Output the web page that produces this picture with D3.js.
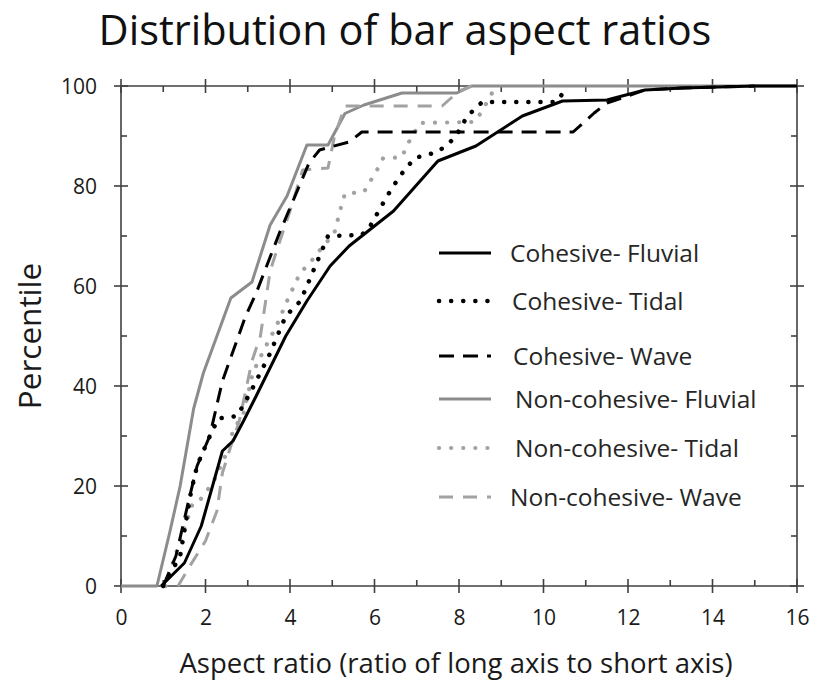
<!DOCTYPE html>
<html>
<head>
<meta charset="utf-8">
<script src="https://cdn.jsdelivr.net/npm/d3@7/dist/d3.min.js"></script>
<style>
  html, body { margin: 0; padding: 0; background: #fff; }
  svg { display: block; font-family: "Open Sans", Lato, sans-serif; }
</style>
</head>
<body>
<svg id="chart" width="817" height="685"></svg>
<script>
// Cumulative distributions of bar aspect ratio, [aspect ratio, percentile]
const cohesiveFluvial = [[0.95,0],[1.5,4.6],[1.9,12],[2.4,27],[2.65,29],[2.9,33],[3.2,38],[3.9,50],[4.4,57],[4.95,64],[5.4,68],[6.45,75],[7.5,85],[8.4,88],[9.5,94],[10.45,97],[11.5,97.2],[12.4,99.2],[13.3,99.6],[15,100],[16,100]];
const cohesiveTidal = [[1.0,0],[1.4,6],[1.5,11],[1.65,18.5],[1.8,24],[2.05,29],[2.3,33.5],[2.75,34],[3.05,38.5],[3.5,46],[3.9,54],[4.25,57],[4.55,63],[4.9,70],[5.7,70.2],[5.9,72],[6.3,78],[6.6,82],[6.95,85.6],[7.5,86.8],[7.9,89.6],[8.2,94],[8.55,96.8],[10.3,96.8],[10.5,99],[10.6,100]];
const cohesiveWave = [[1.0,0],[1.3,6],[1.6,17],[1.8,24],[2.1,30],[2.4,41],[2.95,54],[3.2,58.6],[3.75,70.6],[4.05,76.6],[4.45,84.6],[4.7,87.2],[4.95,87.8],[5.4,88.8],[5.7,90.8],[10.7,90.8],[11.2,94.6],[11.5,96.6],[12.0,98],[12.4,99.2],[13.3,99.6],[15,100]];
const nonCohesiveFluvial = [[0,0],[0.85,0],[1.15,10.6],[1.4,20],[1.72,35.5],[1.95,42.6],[2.6,57.6],[3.1,60.8],[3.53,72.2],[3.93,78],[4.4,88.2],[4.9,88.2],[5.3,94.5],[5.75,96.2],[6.65,98.6],[7.95,98.6],[8.3,100],[16,100]];
const nonCohesiveTidal = [[1.05,0],[1.4,9],[1.7,16.6],[1.87,17.2],[2.2,21],[2.5,26.6],[2.65,31],[2.9,34.6],[3.12,42.6],[3.37,47],[3.68,52],[3.93,57],[4.24,62.6],[4.47,64.6],[4.71,67.2],[5.05,70.6],[5.2,75.5],[5.3,78.5],[5.75,78.8],[6.06,83.2],[6.2,85.5],[6.65,85.8],[6.8,88.6],[7.08,92.6],[8.3,92.8],[8.42,93.2],[8.57,95.5],[8.73,97.6],[8.85,100]];
const nonCohesiveWave = [[1.35,0],[1.63,4],[2.0,9],[2.27,15],[2.4,22.6],[2.6,28],[2.8,33],[3.1,45],[3.3,50],[3.53,63],[3.76,69],[4.0,75],[4.3,83.2],[4.9,83.6],[5.05,89.8],[5.3,96],[7.6,96],[8.0,99],[8.3,100]];

const seriesNames = ["Cohesive- Fluvial","Cohesive- Tidal","Cohesive- Wave","Non-cohesive- Fluvial","Non-cohesive- Tidal","Non-cohesive- Wave"];
const seriesData = [cohesiveFluvial, cohesiveTidal, cohesiveWave, nonCohesiveFluvial, nonCohesiveTidal, nonCohesiveWave];

const xMajorTicks = [0,2,4,6,8,10,12,14,16];
const xMinorTicks = [1,3,5,7,9,11,13,15];
const yMajorTicks = [0,20,40,60,80,100];
const yMinorTicks = [10,30,50,70,90];

const titleText = "Distribution of bar aspect ratios";
const xTitle = "Aspect ratio (ratio of long axis to short axis)";
const yTitle = "Percentile";

// Line styles for each series
const styles = [
  { stroke: "#000000", width: 3, dash: null, cap: "butt" },
  { stroke: "#000000", width: 4.5, dash: "0.1,12", cap: "round" },
  { stroke: "#000000", width: 3, dash: "15,9", cap: "butt" },
  { stroke: "#8c8c8c", width: 3, dash: null, cap: "butt" },
  { stroke: "#a2a2a2", width: 4.2, dash: "0.1,12", cap: "round" },
  { stroke: "#a2a2a2", width: 3, dash: "14,10", cap: "butt" }
];

const svg = d3.select("#chart");
const margin = { left: 121, right: 20, top: 86, bottom: 99 };
const W = 817, H = 685;

const x = d3.scaleLinear().domain([0, 16]).range([margin.left, W - margin.right]);
const y = d3.scaleLinear().domain([0, 100]).range([H - margin.bottom, margin.top]);

const axisColor = "#404040";
const frame = svg.append("g").attr("stroke", axisColor).attr("stroke-width", 1.6);

// Plot frame
frame.append("line").attr("x1", x(0)).attr("x2", x(16)).attr("y1", y(0)).attr("y2", y(0));
frame.append("line").attr("x1", x(0)).attr("x2", x(16)).attr("y1", y(100)).attr("y2", y(100));
frame.append("line").attr("x1", x(0)).attr("x2", x(0)).attr("y1", y(0)).attr("y2", y(100));
frame.append("line").attr("x1", x(16)).attr("x2", x(16)).attr("y1", y(0)).attr("y2", y(100));

// Major ticks cross the frame, minor ticks point inward
const maj = 7, mnr = 6;
[y(0), y(100)].forEach((yy, i) => {
  const dir = i === 0 ? -1 : 1;
  frame.selectAll(null).data(xMajorTicks).enter().append("line")
    .attr("x1", d => x(d)).attr("x2", d => x(d))
    .attr("y1", yy - maj).attr("y2", yy + maj);
  frame.selectAll(null).data(xMinorTicks).enter().append("line")
    .attr("x1", d => x(d)).attr("x2", d => x(d))
    .attr("y1", yy).attr("y2", yy + dir * mnr);
});
[x(0), x(16)].forEach((xx, i) => {
  const dir = i === 0 ? 1 : -1;
  frame.selectAll(null).data(yMajorTicks).enter().append("line")
    .attr("y1", d => y(d)).attr("y2", d => y(d))
    .attr("x1", xx - maj).attr("x2", xx + maj);
  frame.selectAll(null).data(yMinorTicks).enter().append("line")
    .attr("y1", d => y(d)).attr("y2", d => y(d))
    .attr("x1", xx).attr("x2", xx + dir * mnr);
});

// Tick labels via d3 axes (tick lines hidden; drawn above)
const xAxis = d3.axisBottom(x).tickValues(xMajorTicks).tickSize(0).tickPadding(24);
const gx = svg.append("g").attr("transform", `translate(0,${y(0)})`).call(xAxis);
const yAxis = d3.axisLeft(y).tickValues(yMajorTicks).tickSize(0).tickPadding(24);
const gy = svg.append("g").attr("transform", `translate(${x(0)},0)`).call(yAxis);
[gx, gy].forEach(g => {
  g.select(".domain").remove();
  g.selectAll("text").attr("font-size", 21).attr("fill", "#1a1a1a")
    .attr("font-family", "'Open Sans', Lato, sans-serif");
});
gy.selectAll("text").attr("dy", "0.36em");

// Series lines
const line = d3.line().x(d => x(d[0])).y(d => y(d[1]));
const order = [3, 4, 5, 0, 1, 2];
order.forEach(i => {
  const s = styles[i];
  svg.append("path")
    .datum(seriesData[i])
    .attr("d", line)
    .attr("fill", "none")
    .attr("stroke", s.stroke)
    .attr("stroke-width", s.width)
    .attr("stroke-linecap", s.cap)
    .attr("stroke-linejoin", "round")
    .attr("stroke-dasharray", s.dash);
});

// Legend
const legendRows = [
  { y: 253, tx: 510 },
  { y: 301, tx: 512 },
  { y: 356, tx: 513 },
  { y: 399, tx: 515 },
  { y: 448, tx: 515 },
  { y: 497, tx: 510 }
];
const legend = svg.append("g");
seriesNames.forEach((name, i) => {
  const s = styles[i];
  const r = legendRows[i];
  legend.append("line")
    .attr("x1", 439).attr("x2", 491).attr("y1", r.y).attr("y2", r.y)
    .attr("stroke", s.stroke).attr("stroke-width", s.width)
    .attr("stroke-linecap", s.cap).attr("stroke-dasharray", s.dash);
  legend.append("text")
    .attr("x", r.tx).attr("y", r.y).attr("dy", "0.35em")
    .attr("font-size", 24.5).attr("fill", "#262626")
    .text(name);
});

// Titles
svg.append("text").attr("x", 405).attr("y", 45).attr("text-anchor", "middle")
  .attr("font-size", 41.5).attr("fill", "#111").text(titleText);
svg.append("text").attr("x", 456).attr("y", 673).attr("text-anchor", "middle")
  .attr("font-size", 27.5).attr("fill", "#1a1a1a").text(xTitle);
svg.append("text").attr("transform", "translate(41,336) rotate(-90)")
  .attr("text-anchor", "middle").attr("font-size", 31.5).attr("fill", "#1a1a1a").text(yTitle);
</script>
</body>
</html>
